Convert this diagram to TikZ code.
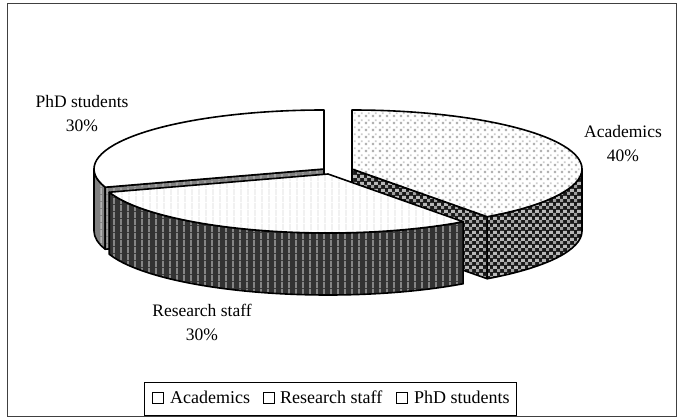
\documentclass[tikz,border=0pt]{standalone}
\usepackage{fontspec}
\setmainfont{Liberation Serif}
\usetikzlibrary{calc,patterns,patterns.meta}

% fill textures of the slices
\tikzdeclarepattern{
  name=acaddots, type=colored,
  bottom left={(0pt,0pt)}, top right={(7pt,7pt)}, tile size={(7pt,7pt)},
  code={\fill[gray!60] (1pt,1pt) rectangle (3.5pt,3.5pt);
        \fill[gray!40] (4.5pt,4.5pt) rectangle (6.5pt,6.5pt);}
}
\tikzdeclarepattern{
  name=acadchecks, type=colored,
  bottom left={(0pt,0pt)}, top right={(7pt,7pt)}, tile size={(7pt,7pt)},
  code={\fill[gray!75] (0pt,0pt) rectangle (3.5pt,3.5pt);
        \fill[gray!55] (3.5pt,3.5pt) rectangle (7pt,7pt);}
}
\tikzdeclarepattern{
  name=faintstripes, type=colored,
  bottom left={(0pt,0pt)}, top right={(7pt,7pt)}, tile size={(7pt,7pt)},
  code={\fill[gray!30] (3pt,0pt) rectangle (3.8pt,7pt);}
}
\tikzdeclarepattern{
  name=darkstripes, type=colored,
  bottom left={(0pt,0pt)}, top right={(6.5pt,6.5pt)}, tile size={(6.5pt,6.5pt)},
  code={\fill[gray!60] (2.5pt,0pt) rectangle (4pt,6.5pt);}
}

\begin{document}
\begin{tikzpicture}[x=1pt,y=1pt,
  outline/.style={draw=black,line width=1.6pt,line join=round},
  phdtop/.style={outline,fill=white},
  phdside/.style={outline,preaction={fill=black!50},pattern=darkstripes},
  acadtop/.style={outline,preaction={fill=white},pattern=acaddots},
  acadside/.style={outline,preaction={fill=black!90},pattern=acadchecks},
  restop/.style={outline,preaction={fill=white},pattern=faintstripes},
  resside/.style={outline,preaction={fill=black!80},pattern=darkstripes},
  lbl/.style={font=\fontsize{17.5}{24}\selectfont,align=center,inner sep=0pt},
  legtxt/.style={font=\fontsize{18}{20}\selectfont,inner sep=0pt,anchor=base west},
  legsq/.style={draw=black,line width=1pt,minimum size=11pt,inner sep=0pt}]

\useasboundingbox (0,0) rectangle (679,-419);
\draw[black!75,line width=0.8pt] (7,-3) rectangle (676,-416);

% apexes of the three exploded slices
\coordinate (P) at (324,-169);
\coordinate (A) at (352,-169);
\coordinate (R) at (328,-174);

% PhD students slice
\path[phdside] ($(P)+(180:230 and 59)$) arc[start angle=180,end angle=198,x radius=230,y radius=59]
  -- ++(0,-62) arc[start angle=198,end angle=180,x radius=230,y radius=59] -- cycle;
\path[phdside] (P) -- ($(P)+(198:230 and 59)$) -- ++(0,-62) -- ($(P)+(0,-62)$) -- cycle;
\path[phdtop] (P) -- ($(P)+(90:230 and 59)$) arc[start angle=90,end angle=198,x radius=230,y radius=59] -- cycle;

% Academics slice
\path[acadside] (A) -- ($(A)+(-54:230 and 59)$) -- ++(0,-62) -- ($(A)+(0,-62)$) -- cycle;
\path[acadside] ($(A)+(-54:230 and 59)$) arc[start angle=-54,end angle=0,x radius=230,y radius=59]
  -- ++(0,-62) arc[start angle=0,end angle=-54,x radius=230,y radius=59] -- cycle;
\path[acadtop] (A) -- ($(A)+(90:230 and 59)$) arc[start angle=90,end angle=-54,x radius=230,y radius=59] -- cycle;

% Research staff slice
\path[resside] ($(R)+(-162:230 and 59)$) arc[start angle=-162,end angle=-54,x radius=230,y radius=59]
  -- ++(0,-62) arc[start angle=-54,end angle=-162,x radius=230,y radius=59] -- cycle;
\path[restop] (R) -- ($(R)+(-54:230 and 59)$) arc[start angle=-54,end angle=-162,x radius=230,y radius=59] -- cycle;

% slice labels
\node[lbl] (lphd) at (82,-114) {PhD students\\30\%};
\node[lbl] (lacad) at (623,-144) {Academics\\40\%};
\node[lbl] (lres) at (202,-322.5) {Research staff\\30\%};

% legend
\node[draw=black,line width=0.8pt,minimum width=372pt,minimum height=33pt,inner sep=0pt] (legend) at (330,-398.5) {};
\node[legsq] (sqa) at (157.5,-397.5) {};
\node[legtxt] (ta) at (170,-403) {Academics};
\node[legsq] (sqr) at (269,-397.5) {};
\node[legtxt] (tr) at (280,-403) {Research staff};
\node[legsq] (sqp) at (402,-397.5) {};
\node[legtxt] (tp) at (414,-403) {PhD students};
\end{tikzpicture}
\end{document}
